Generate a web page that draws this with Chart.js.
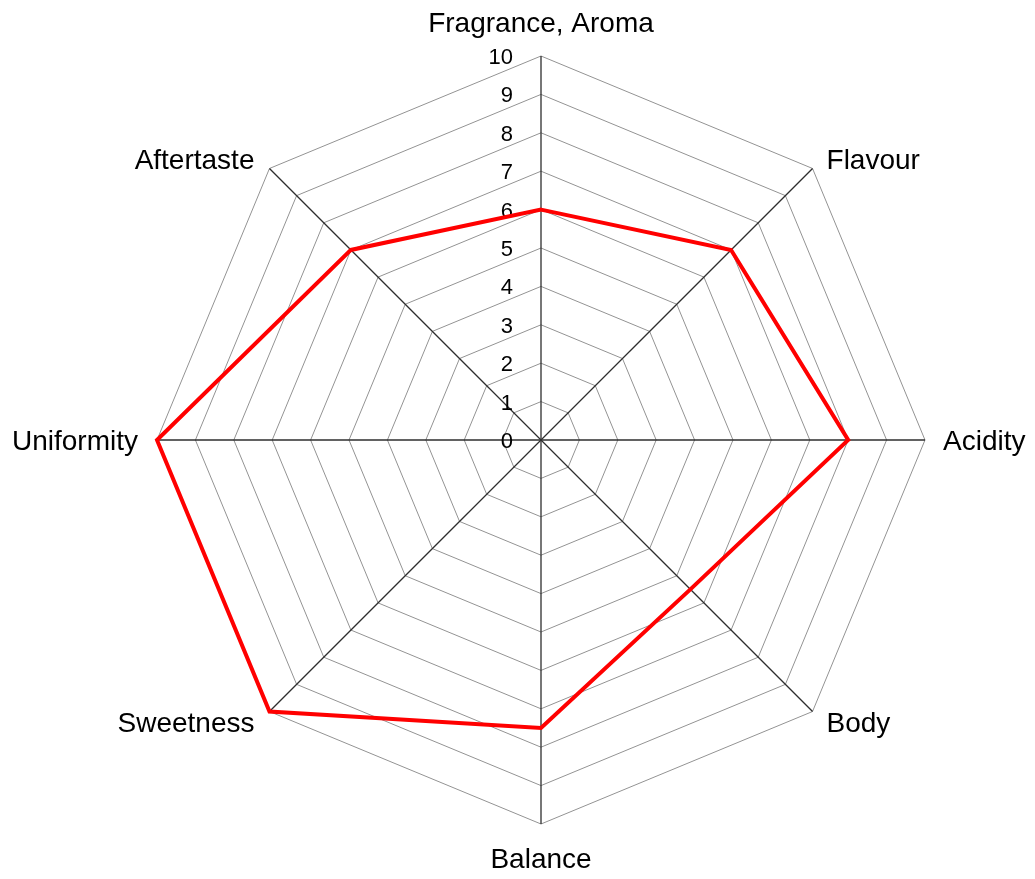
<!DOCTYPE html>
<html>
<head>
<meta charset="utf-8">
<script src="https://cdn.jsdelivr.net/npm/chart.js@4"></script>
<style>
  html, body { margin: 0; padding: 0; background: #ffffff; }
  #wrap { width: 1035px; height: 879px; }
</style>
</head>
<body>
<div id="wrap"><canvas id="c" width="1035" height="879"></canvas></div>
<script>
const categories = ["Fragrance, Aroma", "Flavour", "Acidity", "Body", "Balance", "Sweetness", "Uniformity", "Aftertaste"];
const scores = [6, 7, 8, 5.5, 7.5, 10, 10, 7];
const tickValues = [0, 1, 2, 3, 4, 5, 6, 7, 8, 9, 10];

const labelFont = '28px "Liberation Sans", Arial, sans-serif';
const tickFont = '22px "Liberation Sans", Arial, sans-serif';

const customLabels = {
  id: 'customLabels',
  beforeDatasetsDraw(chart) {
    const scale = chart.scales.r;
    const ctx = chart.ctx;
    ctx.save();
    ctx.font = tickFont;
    ctx.fillStyle = '#000000';
    ctx.textAlign = 'right';
    ctx.textBaseline = 'middle';
    tickValues.forEach(v => {
      const d = scale.getDistanceFromCenterForValue(v);
      ctx.fillText(String(v), scale.xCenter - 28, scale.yCenter - d + 2);
    });
    ctx.restore();
  },
  afterDraw(chart) {
    const scale = chart.scales.r;
    const ctx = chart.ctx;
    ctx.save();
    ctx.font = labelFont;
    ctx.fillStyle = '#000000';
    ctx.textBaseline = 'middle';
    categories.forEach((lab, i) => {
      const p = scale.getPointPosition(i, scale.drawingArea);
      const dx = p.x - scale.xCenter;
      const dy = p.y - scale.yCenter;
      let x = p.x, y = p.y + 2;
      if (Math.abs(dx) < 1) {
        ctx.textAlign = 'center';
        y += dy < 0 ? -34 : 34;
      } else if (Math.abs(dy) < 1) {
        ctx.textAlign = dx > 0 ? 'left' : 'right';
        x += dx > 0 ? 18 : -19;
      } else {
        ctx.textAlign = dx > 0 ? 'left' : 'right';
        x += dx > 0 ? 14 : -15;
        y += dy < 0 ? -9 : 11;
      }
      ctx.fillText(lab, x, y);
    });
    ctx.restore();
  }
};

new Chart(document.getElementById('c'), {
  type: 'radar',
  data: {
    labels: categories,
    datasets: [{
      data: scores,
      borderColor: '#ff0000',
      borderWidth: 4,
      fill: false,
      pointRadius: 0,
      pointHoverRadius: 0,
      tension: 0
    }]
  },
  options: {
    responsive: false,
    animation: false,
    devicePixelRatio: 1,
    layout: { padding: { top: 56, bottom: 55, left: 157, right: 110 } },
    plugins: { legend: { display: false }, tooltip: { enabled: false } },
    scales: {
      r: {
        min: 0,
        max: 10,
        ticks: { display: false, stepSize: 1 },
        pointLabels: { display: false },
        grid: { circular: false, color: '#939393', lineWidth: 1 },
        angleLines: { display: true, color: '#2e2e2e', lineWidth: 1.3 }
      }
    }
  },
  plugins: [customLabels]
});
</script>
</body>
</html>
